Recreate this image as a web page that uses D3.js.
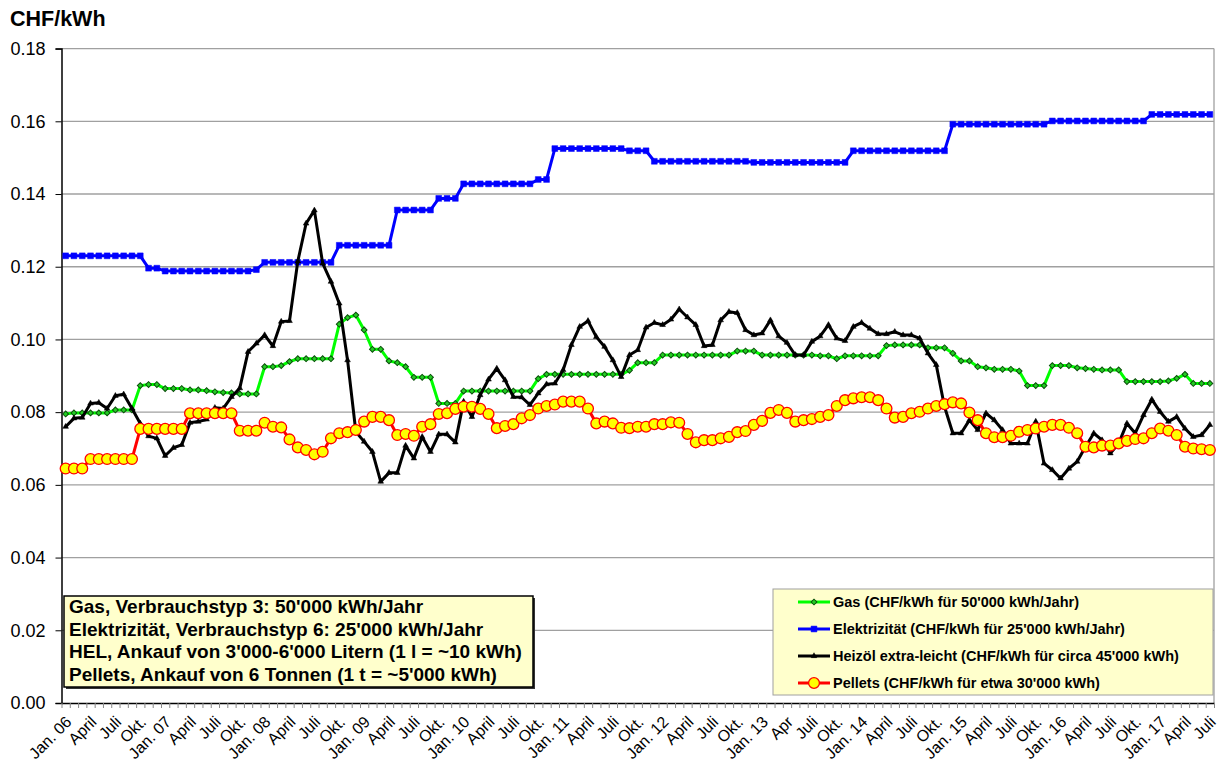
<!DOCTYPE html>
<html>
<head>
<meta charset="utf-8">
<script src="https://cdn.jsdelivr.net/npm/d3@7"></script>
<style>
  body { margin: 0; background: #fff; }
  svg { display: block; font-family: Arial, "Liberation Sans", sans-serif; }
</style>
</head>
<body>
<div id="chart"></div>
<script>
// Monthly energy prices in CHF/kWh, Jan 2006 - Jul 2017
const months = d3.timeMonths(new Date(2006, 0, 1), new Date(2017, 7, 1));

const tickLabels = ["Jan. 06","April","Juli","Okt.","Jan. 07","April","Juli","Okt.",
  "Jan. 08","April","Juli","Okt.","Jan. 09","April","Juli","Okt.","Jan. 10","April","Juli","Okt.",
  "Jan. 11","April","Juli","Okt.","Jan. 12","April","Juli","Okt.","Jan. 13","Apr","Juli","Okt.",
  "Jan. 14","April","Juli","Okt.","Jan. 15","April","Juli","Okt.","Jan. 16","April","Juli","Okt.",
  "Jan. 17","April","Juli"];

const gas = [
  0.0795,0.0798,0.0798,0.0798,0.0798,0.0798,0.0806,0.0806,0.0806,0.0873,0.0876,0.0876,
  0.0865,0.0865,0.0865,0.0861,0.0861,0.0859,0.0856,0.0854,0.0853,0.0850,0.0850,0.0850,
  0.0925,0.0925,0.0928,0.0939,0.0947,0.0947,0.0947,0.0947,0.0947,0.1042,0.1060,0.1067,
  0.1026,0.0973,0.0973,0.0941,0.0936,0.0925,0.0896,0.0896,0.0896,0.0824,0.0824,0.0824,
  0.0858,0.0858,0.0858,0.0858,0.0858,0.0858,0.0858,0.0858,0.0858,0.0892,0.0904,0.0904,
  0.0904,0.0904,0.0904,0.0904,0.0904,0.0904,0.0904,0.0904,0.0915,0.0936,0.0936,0.0936,
  0.0957,0.0957,0.0957,0.0957,0.0957,0.0957,0.0957,0.0957,0.0957,0.0968,0.0968,0.0968,
  0.0957,0.0957,0.0957,0.0957,0.0957,0.0957,0.0957,0.0955,0.0955,0.0947,0.0955,0.0955,
  0.0955,0.0955,0.0955,0.0983,0.0985,0.0985,0.0985,0.0985,0.0977,0.0977,0.0977,0.0962,
  0.0941,0.0941,0.0925,0.0922,0.0918,0.0918,0.0918,0.0913,0.0873,0.0873,0.0873,0.0928,
  0.0928,0.0928,0.0922,0.0920,0.0918,0.0916,0.0916,0.0916,0.0884,0.0884,0.0884,0.0884,
  0.0884,0.0886,0.0893,0.0904,0.0879,0.0879,0.0879
];

const strom = [
  0.1230,0.1230,0.1230,0.1230,0.1230,0.1230,0.1230,0.1230,0.1230,0.1230,0.1196,0.1196,
  0.1188,0.1188,0.1188,0.1188,0.1188,0.1188,0.1188,0.1188,0.1188,0.1188,0.1188,0.1192,
  0.1212,0.1212,0.1212,0.1212,0.1212,0.1212,0.1212,0.1212,0.1212,0.1259,0.1259,0.1259,
  0.1259,0.1259,0.1259,0.1259,0.1356,0.1356,0.1356,0.1356,0.1356,0.1388,0.1388,0.1388,
  0.1428,0.1428,0.1428,0.1428,0.1428,0.1428,0.1428,0.1428,0.1428,0.1440,0.1440,0.1525,
  0.1525,0.1525,0.1525,0.1525,0.1525,0.1525,0.1525,0.1525,0.1519,0.1519,0.1519,0.1490,
  0.1490,0.1490,0.1490,0.1490,0.1490,0.1490,0.1490,0.1490,0.1490,0.1490,0.1490,0.1487,
  0.1487,0.1487,0.1487,0.1487,0.1487,0.1487,0.1487,0.1487,0.1487,0.1487,0.1487,0.1519,
  0.1519,0.1519,0.1519,0.1519,0.1519,0.1519,0.1519,0.1519,0.1519,0.1519,0.1519,0.1592,
  0.1592,0.1592,0.1592,0.1592,0.1592,0.1592,0.1592,0.1592,0.1592,0.1592,0.1592,0.1601,
  0.1601,0.1601,0.1601,0.1601,0.1601,0.1601,0.1601,0.1601,0.1601,0.1601,0.1601,0.1619,
  0.1619,0.1619,0.1619,0.1619,0.1619,0.1619,0.1619
];

const heizoel = [
  0.0760,0.0783,0.0785,0.0824,0.0826,0.0810,0.0845,0.0849,0.0810,0.0769,0.0734,0.0728,
  0.0680,0.0702,0.0710,0.0771,0.0774,0.0780,0.0812,0.0810,0.0842,0.0866,0.0966,0.0989,
  0.1012,0.0982,0.1049,0.1051,0.1215,0.1319,0.1355,0.1209,0.1159,0.1099,0.0943,0.0746,
  0.0719,0.0691,0.0609,0.0633,0.0633,0.0708,0.0673,0.0732,0.0691,0.0739,0.0739,0.0717,
  0.0829,0.0787,0.0847,0.0890,0.0920,0.0888,0.0842,0.0841,0.0820,0.0852,0.0877,0.0879,
  0.0916,0.0985,0.1035,0.1051,0.1007,0.0980,0.0943,0.0897,0.0957,0.0971,0.1033,0.1046,
  0.1040,0.1055,0.1083,0.1061,0.1040,0.0982,0.0985,0.1053,0.1076,0.1073,0.1026,0.1012,
  0.1017,0.1053,0.1009,0.0991,0.0957,0.0957,0.0994,0.1009,0.1040,0.1003,0.0996,0.1035,
  0.1046,0.1030,0.1015,0.1015,0.1021,0.1012,0.1012,0.1003,0.0962,0.0930,0.0815,0.0742,
  0.0742,0.0778,0.0751,0.0797,0.0778,0.0751,0.0714,0.0714,0.0714,0.0774,0.0659,0.0641,
  0.0618,0.0645,0.0664,0.0705,0.0742,0.0723,0.0687,0.0714,0.0769,0.0742,0.0792,0.0835,
  0.0801,0.0774,0.0787,0.0755,0.0732,0.0737,0.0765
];

const pellets = [
  0.0645,0.0645,0.0645,0.0671,0.0671,0.0671,0.0671,0.0671,0.0671,0.0754,0.0754,0.0754,
  0.0754,0.0754,0.0754,0.0797,0.0797,0.0797,0.0797,0.0797,0.0797,0.0749,0.0749,0.0749,
  0.0771,0.0760,0.0758,0.0725,0.0703,0.0696,0.0684,0.0691,0.0728,0.0742,0.0745,0.0751,
  0.0774,0.0787,0.0787,0.0778,0.0737,0.0740,0.0735,0.0760,0.0767,0.0795,0.0797,0.0809,
  0.0815,0.0815,0.0809,0.0795,0.0756,0.0762,0.0767,0.0783,0.0792,0.0810,0.0817,0.0821,
  0.0829,0.0829,0.0829,0.0810,0.0769,0.0774,0.0769,0.0757,0.0756,0.0760,0.0760,0.0767,
  0.0767,0.0772,0.0771,0.0740,0.0717,0.0723,0.0723,0.0728,0.0732,0.0745,0.0748,0.0765,
  0.0776,0.0798,0.0806,0.0798,0.0774,0.0778,0.0781,0.0787,0.0792,0.0817,0.0833,0.0838,
  0.0841,0.0841,0.0833,0.0810,0.0785,0.0787,0.0797,0.0801,0.0810,0.0817,0.0822,0.0827,
  0.0824,0.0799,0.0778,0.0742,0.0731,0.0731,0.0735,0.0746,0.0751,0.0755,0.0760,0.0765,
  0.0765,0.0757,0.0742,0.0705,0.0703,0.0708,0.0708,0.0714,0.0721,0.0726,0.0728,0.0742,
  0.0755,0.0749,0.0737,0.0705,0.0700,0.0698,0.0696
];

const legendLabels = [
  "Gas (CHF/kWh für 50'000 kWh/Jahr)",
  "Elektrizität (CHF/kWh für 25'000 kWh/Jahr)",
  "Heizöl extra-leicht (CHF/kWh für circa 45'000 kWh)",
  "Pellets (CHF/kWh für etwa 30'000 kWh)"
];

const noteLines = [
  "Gas, Verbrauchstyp 3: 50'000 kWh/Jahr",
  "Elektrizität, Verbrauchstyp 6: 25'000 kWh/Jahr",
  "HEL, Ankauf von 3'000-6'000 Litern (1 l = ~10 kWh)",
  "Pellets, Ankauf von 6 Tonnen (1 t = ~5'000 kWh)"
];

const yTicks = [0, 0.02, 0.04, 0.06, 0.08, 0.10, 0.12, 0.14, 0.16, 0.18];

// series styles (gas diamond = square turned 45deg)
const series = [
  { values: gas, line: "#00ff00", width: 3, symbol: d3.symbolSquare, size: 17, rot: 45, fill: "#22cc22", stroke: "#0b4d0b", sw: 1 },
  { values: strom, line: "#0000ff", width: 3, symbol: d3.symbolSquare, size: 34, rot: 0, fill: "#0000ff", stroke: "#0000ff", sw: 0.5 },
  { values: heizoel, line: "#000000", width: 3, symbol: d3.symbolTriangle, size: 14, rot: 0, fill: "#000", stroke: "#000", sw: 0.5 },
  { values: pellets, line: "#ff0000", width: 3, symbol: d3.symbolCircle, size: 92, rot: 0, fill: "#ffff00", stroke: "#ff0000", sw: 1.3 }
];

const W = 1219, H = 766;
const plotLeft = 61.5, plotRight = 1214, plotTop = 48.6, plotBottom = 703;

const svg = d3.select("#chart").append("svg")
  .attr("width", W).attr("height", H);

svg.append("rect").attr("width", W).attr("height", H).attr("fill", "#fff");

const x = d3.scalePoint().domain(months).range([plotLeft, plotRight]).padding(0.5);
const xEdge = d3.scaleLinear().domain([0, months.length]).range([plotLeft, plotRight]);
const y = d3.scaleLinear().domain([0, 0.18]).range([plotBottom, plotTop]);

// gridlines
svg.append("g")
  .selectAll("line")
  .data(yTicks.slice(1))
  .join("line")
  .attr("x1", plotLeft).attr("x2", plotRight)
  .attr("y1", d => y(d)).attr("y2", d => y(d))
  .attr("stroke", "#a0a0a0").attr("stroke-width", 1.3);

// right border of plot
svg.append("line")
  .attr("x1", plotRight).attr("x2", plotRight).attr("y1", plotTop).attr("y2", plotBottom)
  .attr("stroke", "#a0a0a0").attr("stroke-width", 1.3);

// y axis
const yAxis = svg.append("g")
  .attr("transform", `translate(${plotLeft},0)`)
  .call(d3.axisLeft(y).tickValues(yTicks).tickFormat(d3.format(".2f")).tickSize(6).tickPadding(10));
yAxis.select(".domain").attr("stroke", "#000").attr("stroke-width", 1.5);
yAxis.selectAll(".tick line").attr("stroke", "#000");
yAxis.selectAll("text").attr("font-size", 18).attr("fill", "#000").attr("font-family", "Arial, 'Liberation Sans', sans-serif");

// x axis: month ticks between categories
const xAxis = svg.append("g")
  .attr("transform", `translate(0,${plotBottom})`)
  .call(d3.axisBottom(xEdge).tickValues(d3.range(0, months.length + 1)).tickFormat("").tickSize(5).tickSizeOuter(0));
xAxis.select(".domain").attr("stroke", "#000").attr("stroke-width", 1.5);
xAxis.selectAll(".tick line").attr("stroke", "#888");

// x labels every third month
svg.append("g")
  .selectAll("text")
  .data(tickLabels)
  .join("text")
  .attr("transform", (d, k) => `translate(${x(months[k * 3]) + 7},${plotBottom + 20}) rotate(-45)`)
  .attr("text-anchor", "end")
  .attr("font-size", 16)
  .attr("fill", "#000")
  .text(d => d);

// title
svg.append("text")
  .attr("x", 10).attr("y", 26)
  .attr("font-size", 21.5).attr("font-weight", "bold")
  .text("CHF/kWh");

// lines + markers
series.forEach(s => {
  const line = d3.line()
    .x((v, i) => x(months[i]))
    .y(v => y(v));
  const g = svg.append("g");
  g.append("path")
    .datum(s.values)
    .attr("d", line)
    .attr("fill", "none")
    .attr("stroke", s.line)
    .attr("stroke-width", s.width)
    .attr("stroke-linejoin", "round");
  g.selectAll("path.m")
    .data(s.values)
    .join("path")
    .attr("class", "m")
    .attr("d", d3.symbol().type(s.symbol).size(s.size))
    .attr("transform", (v, i) => `translate(${x(months[i])},${y(v)}) rotate(${s.rot})`)
    .attr("fill", s.fill)
    .attr("stroke", s.stroke)
    .attr("stroke-width", s.sw);
});

// note box
const note = svg.append("g");
note.append("rect")
  .attr("x", 66).attr("y", 598).attr("width", 469).attr("height", 91)
  .attr("fill", "#333");
note.append("rect")
  .attr("x", 64).attr("y", 596).attr("width", 469).attr("height", 91)
  .attr("fill", "#ffffcc").attr("stroke", "#000").attr("stroke-width", 1.5);
note.selectAll("text")
  .data(noteLines)
  .join("text")
  .attr("x", 69)
  .attr("y", (d, i) => 613 + i * 22.6)
  .attr("font-size", 19).attr("font-weight", "bold")
  .text(d => d);

// legend
const legend = svg.append("g");
legend.append("rect")
  .attr("x", 773).attr("y", 589).attr("width", 440).attr("height", 106)
  .attr("fill", "#ffffcc").attr("stroke", "#a0a0a0").attr("stroke-width", 1);
series.forEach((s, i) => {
  const cy = 602 + i * 27;
  legend.append("line")
    .attr("x1", 798).attr("x2", 830).attr("y1", cy).attr("y2", cy)
    .attr("stroke", s.line).attr("stroke-width", s.width);
  legend.append("path")
    .attr("d", d3.symbol().type(s.symbol).size(s.size)())
    .attr("transform", `translate(814,${cy}) rotate(${s.rot})`)
    .attr("fill", s.fill).attr("stroke", s.stroke).attr("stroke-width", s.sw);
  legend.append("text")
    .attr("x", 833).attr("y", cy + 5)
    .attr("font-size", 14.5).attr("font-weight", "bold")
    .text(legendLabels[i]);
});
</script>
</body>
</html>
